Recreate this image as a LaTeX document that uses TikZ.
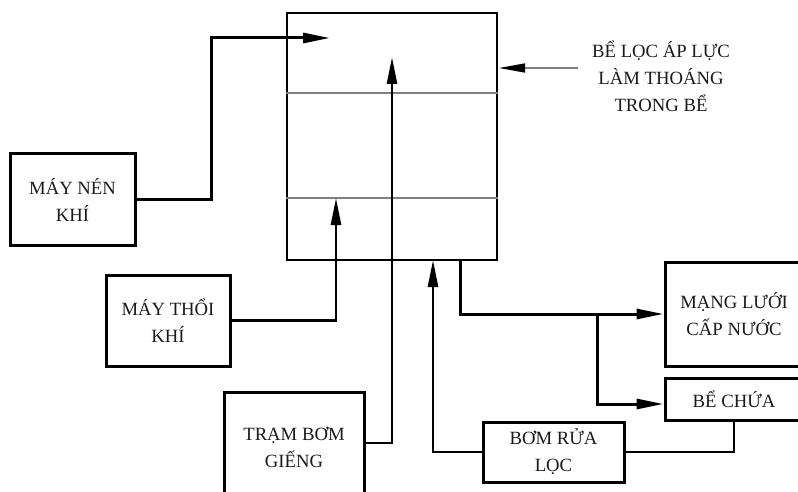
\documentclass[tikz,border=0pt]{standalone}
\usepackage{fontspec}
\setmainfont{Liberation Serif}
\usetikzlibrary{arrows.meta}
\definecolor{ink}{HTML}{1A1A1A}
\begin{document}
\begin{tikzpicture}[x=1pt,y=-1pt,
  box/.style={draw, line width=3pt, inner sep=0pt, align=center, text=ink,
    font=\fontsize{18.7}{27}\selectfont},
  txt/.style={inner sep=0pt, align=center, text=ink, font=\fontsize{18.7}{27}\selectfont},
  conn/.style={line width=3pt},
  thin/.style={line width=2.5pt},
  tip/.style={-{Triangle[length=27pt,width=10pt]}},
  sep/.style={draw=gray, line width=1.5pt}]
\useasboundingbox (0,0) rectangle (798,492);
\clip (0,0) rectangle (798,492);

% main filter tank
\node[draw, line width=2.5pt, minimum width=210pt, minimum height=247pt, inner sep=0pt] (main) at (392,136.5) {};
\draw[sep] (main.west |- 0,93) -- (main.east |- 0,93);
\draw[sep] (main.west |- 0,198) -- (main.east |- 0,198);

% boxes
\node[box, minimum width=125pt, minimum height=91pt] (nen) at (72.5,199.5) {MÁY NÉN\\KHÍ};
\node[box, minimum width=124pt, minimum height=91pt] (thoi) at (168,320.5) {MÁY THỔI\\KHÍ};
\node[box, minimum width=140pt, minimum height=110pt] (tram) at (294,447) {TRẠM BƠM\\GIẾNG};
\node[box, minimum width=138pt, minimum height=104pt] (mang) at (734,314) {MẠNG LƯỚI\\CẤP NƯỚC};
\node[box, minimum width=138pt, minimum height=42pt] (chua) at (734,399) {BỂ CHỨA};
\node[box, minimum width=141pt, minimum height=60pt] (rua) at (553.5,452) {BƠM RỬA\\LỌC};
\node[txt] (lbl) at (661,76) {BỂ LỌC ÁP LỰC\\LÀM THOÁNG\\TRONG BỂ};

% connector end points
\coordinate (n1) at (330,38);
\coordinate (t1) at (336,198);
\coordinate (t2) at (392,57);
\coordinate (o1) at ([xshift=68pt]main.south);
\coordinate (b1) at (597,313);
\coordinate (r1) at (433,260);
\coordinate (l1) at (578,68);
\coordinate (l2) at (499,68);

\draw[conn, tip] (nen.east) -- ++(75,0) |- (n1);
\draw[thin, tip] (thoi.east) -| (t1);
\draw[thin, tip] (tram.east |- 0,443) -| (t2);
\draw[conn, tip] (o1) |- (mang.west);
\draw[conn, tip] (b1) |- ([yshift=-5pt]chua.west);
\draw[thin] (chua.south) |- (rua.east);
\draw[thin, tip] (rua.west) -| (r1);
\draw[draw=gray, line width=1.5pt, -{Triangle[length=26pt,width=9pt,color=black]}] (l1) -- (l2);
\end{tikzpicture}
\end{document}
